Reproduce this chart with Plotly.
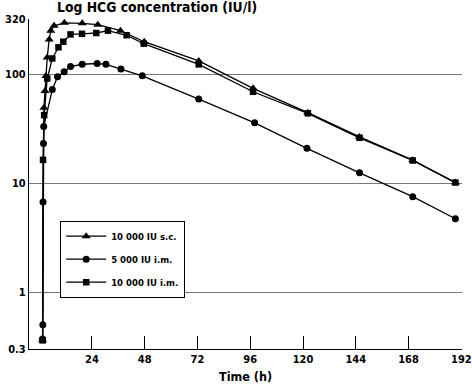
import plotly.graph_objects as go
import math

# ---- data ----
t_sc = [1.6, 2.2, 2.7, 3.1, 3.7, 4.6, 5.3, 6.8, 11.5, 19.6, 26.7, 37.0, 47.8, 72.6, 97.3, 122.2, 145.7, 169.9, 189.3]
v_sc = [0.36, 49, 70, 96, 142, 208, 250, 277, 295, 292, 284, 250, 198, 132, 74, 44.2, 26.5, 16.2, 10.1]

t_im5 = [1.6, 1.7, 1.8, 2.0, 2.1, 6.0, 8.4, 11.4, 14.3, 19.6, 26.4, 30.4, 37.2, 46.9, 72.6, 98.0, 121.8, 145.7, 169.9, 189.3]
v_im5 = [0.37, 0.5, 6.7, 23, 33, 72, 94.5, 105, 117, 123, 125, 122.7, 111, 96.4, 59, 35.7, 20.8, 12.4, 7.5, 4.7]

t_im10 = [1.6, 1.8, 2.3, 3.7, 6.0, 8.8, 11.0, 14.3, 19.5, 26.0, 31.3, 39.8, 47.6, 72.6, 97.3, 122.2, 145.7, 169.9, 189.3]
v_im10 = [0.36, 16.3, 42, 91, 139, 176, 198, 231, 234, 238, 250, 227, 190, 122.7, 68.8, 43.6, 26.0, 16.1, 10.1]

names = ["10 000 IU s.c.", "5 000 IU i.m.", "10 000 IU i.m."]
x_ticks = [24, 48, 72, 96, 120, 144, 168, 192]
y_ticks = [0.3, 1, 10, 100, 320]

FONT = "DejaVu Sans Condensed, Liberation Sans Narrow, Arial Narrow, sans-serif"

fig = go.Figure()
series = [(t_sc, v_sc, "triangle-up", 8), (t_im5, v_im5, "circle", 7), (t_im10, v_im10, "square", 6.5)]
for i, ((tx, vy, sym, sz), nm) in enumerate(zip(series, names)):
    fig.add_trace(go.Scatter(
        x=tx, y=vy, name=nm, mode="lines+markers",
        line=dict(color="black", width=1.3),
        marker=dict(symbol=sym, size=sz, color="black"),
        legendgroup=f"g{i}",
    ))

fig.update_layout(
    width=472, height=384,
    margin=dict(l=29, r=10, t=19, b=35, autoexpand=False),
    paper_bgcolor="white", plot_bgcolor="white",
    font=dict(family=FONT, size=12, color="black"),
    showlegend=True,
    legend=dict(
        x=0.072, y=0.389, xanchor="left", yanchor="top",
        bgcolor="white", bordercolor="black", borderwidth=1,
        font=dict(family=FONT, size=9.5, color="black", weight="bold"),
        tracegroupgap=4, itemwidth=40,
    ),
    xaxis=dict(
        range=[-4.59, 192.3], tickvals=x_ticks, ticktext=[str(v) for v in x_ticks],
        ticks="inside", ticklen=13, tickcolor="black", tickwidth=1,
        showline=True, linecolor="black", linewidth=1.2,
        showgrid=False, zeroline=False, automargin=False,
        tickfont=dict(family=FONT, size=11, weight="bold"),
        title=dict(text="Time (h)", font=dict(family=FONT, size=12.5, weight="bold"), standoff=7),
    ),
    yaxis=dict(
        type="log", range=[math.log10(0.3), math.log10(320)],
        tickvals=y_ticks, ticktext=["0.3", "1", "10", "100", "320"],
        ticks="", showline=True, linecolor="black", linewidth=1.2,
        showgrid=True, gridcolor="#777777", gridwidth=1,
        zeroline=False, automargin=False,
        tickfont=dict(family=FONT, size=11, weight="bold"),
    ),
    annotations=[dict(
        text="Log HCG concentration (IU/l)", x=0, y=1, xref="paper", yref="paper",
        xanchor="left", yanchor="bottom", align="left", xshift=26, yshift=2,
        showarrow=False,
        font=dict(family=FONT, size=13.8, weight="bold"),
    )],
)

fig.write_html("out.html", post_script="document.body.style.margin='0';",
               config={"displayModeBar": False})
